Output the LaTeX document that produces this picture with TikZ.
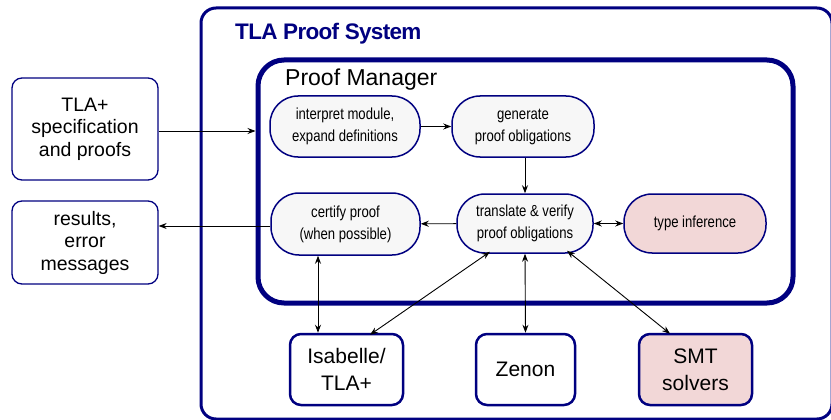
\documentclass[tikz,border=0pt]{standalone}
\usepackage{fontspec}
\setmainfont{Liberation Sans}
\newfontfamily\narrowfont[FakeStretch=0.82]{Liberation Sans}
\newfontfamily\titlefont[LetterSpace=-3]{Liberation Sans}
\usetikzlibrary{arrows.meta}
\definecolor{navy}{RGB}{0,0,128}
\definecolor{pinkfill}{RGB}{242,215,215}
\definecolor{grayfill}{RGB}{247,247,247}
\tikzset{
 pill/.style={draw=navy, line width=1.5pt, fill=grayfill, rounded corners=28pt, minimum height=61pt, align=center, font=\narrowfont\fontsize{16}{22}\selectfont, inner sep=0pt},
 sidebox/.style={draw=navy, line width=1.3pt, rounded corners=10pt, minimum width=146pt, align=center, font=\fontsize{19.5}{22.5}\selectfont, inner sep=0pt},
 toolbox/.style={draw=navy, line width=2.5pt, rounded corners=11pt, minimum height=71pt, align=center, font=\fontsize{21}{27}\selectfont, inner sep=0pt},
 arr/.style={-{Stealth[length=8pt,width=6pt]}, line width=0.9pt},
 darr/.style={{Stealth[length=8pt,width=6pt]}-{Stealth[length=8pt,width=6pt]}, line width=0.9pt},
}
\begin{document}
\begin{tikzpicture}[x=1pt,y=-1pt]
\useasboundingbox (0,0) rectangle (831,420);
% containers
\node[draw=navy, line width=3pt, rounded corners=15pt, minimum width=631pt, minimum height=411pt, inner sep=0pt] (tps) at (516.5,213.5) {};
\node[draw=navy, line width=5pt, rounded corners=26pt, minimum width=535pt, minimum height=243pt, inner sep=0pt] (pm) at (525.5,181.5) {};
\node[anchor=base west, inner sep=0pt, text=navy, font=\titlefont\bfseries\fontsize{22.5}{26}\selectfont] (tpst) at (235,40) {TLA Proof System};
\node[anchor=base west, inner sep=0pt, font=\fontsize{23}{26}\selectfont] (pmt) at (285,86) {Proof Manager};
% side boxes
\node[sidebox, minimum height=102pt] (spec) at (85,129) {TLA+\\specification\\and proofs};
\node[sidebox, minimum height=83pt] (res) at (85,242.5) {results,\\error\\messages};
% pills
\node[pill, minimum width=150pt] (interp) at (345,126.5) {interpret module,\\expand definitions};
\node[pill, minimum width=142pt] (gen) at (523,126.5) {generate\\proof obligations};
\node[pill, minimum width=149pt, minimum height=62pt] (cert) at (345.5,224) {certify proof\\(when possible)};
\node[pill, minimum width=136pt, minimum height=59pt] (trans) at (525,223.5) {translate \& verify\\proof obligations};
\node[pill, minimum width=142pt, minimum height=59pt, fill=pinkfill] (type) at (695,223.5) {type inference};
% tools
\node[toolbox, minimum width=113pt] (isa) at (346.5,369.5) {Isabelle/\\TLA+};
\node[toolbox, minimum width=99pt] (zen) at (525.5,369.5) {Zenon};
\node[toolbox, minimum width=113pt, fill=pinkfill] (smt) at (695.5,369.5) {SMT\\solvers};
% arrows
\draw[arr] ([yshift=-2pt]spec.east) -- ([yshift=-2pt]spec.east -| pm.west);
\draw[arr] (interp) -- (gen);
\draw[arr] (trans.north |- gen.south) -- (trans.north);
\draw[arr] (trans) -- (cert);
\draw[arr] ([yshift=-2pt]cert.west) -- ([yshift=-2pt]cert.west -| res.east);
\draw[darr] (trans) -- (type);
\draw[darr] ([xshift=-27.5pt]cert.south) -- ([xshift=-28.5pt]isa.north);
\draw[darr] ([xshift=-35pt,yshift=2pt]trans.south) -- ([xshift=23.5pt,yshift=-2pt]isa.north);
\draw[darr] (trans.south) -- (zen.north);
\draw[darr] ([xshift=42pt,yshift=3pt]trans.south) -- ([xshift=-25.5pt,yshift=-1pt]smt.north);
\end{tikzpicture}
\end{document}
